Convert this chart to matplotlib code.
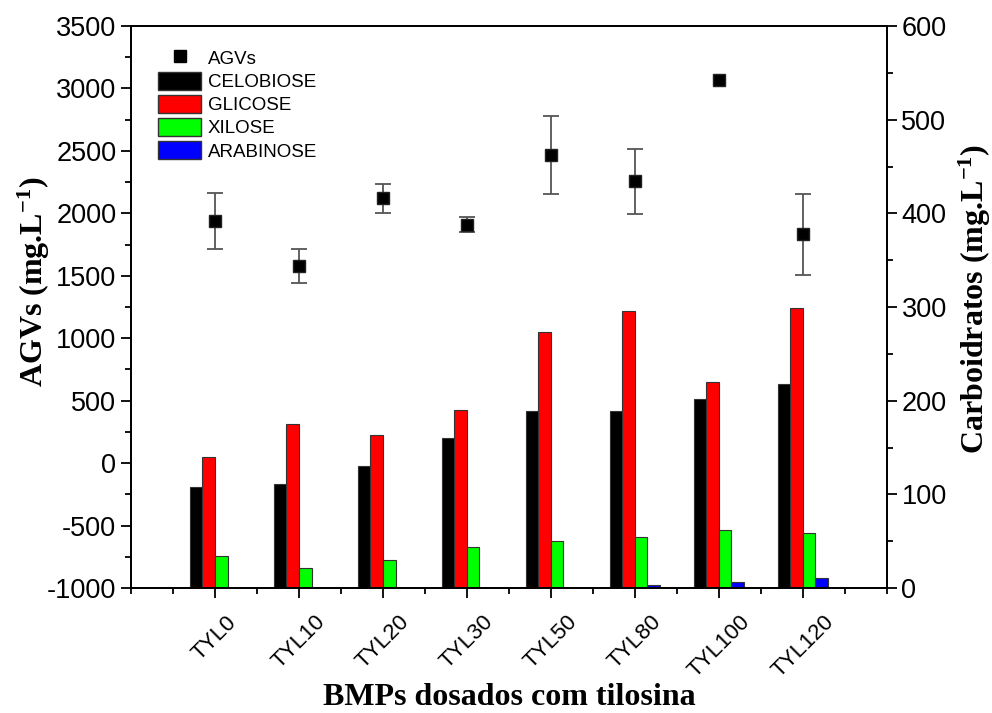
import numpy as np
import matplotlib.pyplot as plt
from matplotlib.patches import Patch
from matplotlib.lines import Line2D
from matplotlib.ticker import MultipleLocator

plt.rcParams['font.family'] = ['Liberation Sans', 'DejaVu Sans']
plt.rcParams['axes.unicode_minus'] = False
plt.rcParams['mathtext.fontset'] = 'custom'
plt.rcParams['mathtext.rm'] = 'Liberation Serif:bold'
plt.rcParams['mathtext.it'] = 'Liberation Serif:bold'
plt.rcParams['mathtext.bf'] = 'Liberation Serif:bold'

# categories and values
groups = ['TYL0', 'TYL10', 'TYL20', 'TYL30', 'TYL50', 'TYL80', 'TYL100', 'TYL120']
agvs = [1939, 1576, 2120, 1907, 2467, 2256, 3068, 1832]
agvs_err = [225, 136, 115, 60, 315, 258, np.nan, 322]
celobiose = [107.5, 111, 130, 160, 189, 189.5, 202, 217.5]
glicose = [140, 175, 163, 190.5, 273, 295.5, 220, 298.5]
xilose = [34, 21, 30, 43.5, 50.5, 54, 61.5, 59]
arabinose = [0, 0, 0, 0, 0, 3.6, 6.4, 10.7]

x = np.arange(len(groups))
w = 0.15

fig = plt.figure(figsize=(9.92, 7.13), dpi=100)
ax = fig.add_axes([0.132, 0.1753, 0.762, 0.7882])
ax2 = ax.twinx()

edge = '#333333'
ax2.bar(x - 1.5 * w, celobiose, w, color='#000000', edgecolor=edge, linewidth=0.8)
ax2.bar(x - 0.5 * w, glicose, w, color='#FF0000', edgecolor=edge, linewidth=0.8)
ax2.bar(x + 0.5 * w, xilose, w, color='#00FF00', edgecolor=edge, linewidth=0.8)
ax2.bar(x + 1.5 * w, arabinose, w, color='#0000FF', edgecolor=edge, linewidth=0.8)

ax.set_zorder(ax2.get_zorder() + 1)
ax.patch.set_visible(False)
ax.errorbar(x, agvs, yerr=agvs_err, fmt='s', color='black', ms=9,
            mec='#222222', ecolor='#555555', elinewidth=1.3, capsize=6, capthick=1.3)

ax.set_xlim(-1, 8)
ax.set_ylim(-1000, 3500)
ax2.set_ylim(0, 600)

ax.set_xticks(x)
ax.set_xticklabels(groups, rotation=45, ha='center', fontsize=16)
ax.xaxis.set_minor_locator(MultipleLocator(0.5))
ax.yaxis.set_major_locator(MultipleLocator(500))
ax.yaxis.set_minor_locator(MultipleLocator(250))
ax2.yaxis.set_major_locator(MultipleLocator(100))
ax2.yaxis.set_minor_locator(MultipleLocator(50))

ax.tick_params(axis='y', which='both', direction='out', labelsize=19.5, width=1.3)
ax.tick_params(axis='y', which='major', length=7)
ax.tick_params(axis='y', which='minor', length=4)
ax.tick_params(axis='x', which='both', direction='out', width=1.3)
ax.tick_params(axis='x', which='major', length=7, pad=10)
ax.tick_params(axis='x', which='minor', length=4)
ax2.tick_params(axis='x', which='both', top=True, bottom=False, labeltop=False,
                labelbottom=False, direction='in', width=1.3)
ax2.tick_params(axis='x', which='major', length=7)
ax2.tick_params(axis='x', which='minor', length=4)
ax2.tick_params(axis='y', which='both', direction='out', labelsize=19.5, width=1.3)
ax2.tick_params(axis='y', which='major', length=7)
ax2.tick_params(axis='y', which='minor', length=4)

for a in (ax, ax2):
    for s in a.spines.values():
        s.set_linewidth(1.3)

serif = {'family': 'Liberation Serif', 'weight': 'bold', 'size': 23}
ax.set_xlabel('BMPs dosados com tilosina', fontdict=serif)
ax.set_ylabel('AGVs (mg.L$^{-1}$)', fontdict=serif)
ax2.set_ylabel('Carboidratos (mg.L$^{-1}$)', fontdict=serif)
ax.xaxis.set_label_coords(0.5, -0.169)
ax.yaxis.set_label_coords(-0.105, 0.545)
ax2.yaxis.set_label_coords(1.093, 0.515)

handles = [
    Line2D([], [], marker='s', color='black', ls='none', ms=9),
    Patch(facecolor='#000000', edgecolor=edge),
    Patch(facecolor='#FF0000', edgecolor=edge),
    Patch(facecolor='#00FF00', edgecolor=edge),
    Patch(facecolor='#0000FF', edgecolor=edge),
]
labels = ['AGVs', 'CELOBIOSE', 'GLICOSE', 'XILOSE', 'ARABINOSE']
ax.legend(handles, labels, loc='upper left', frameon=False, fontsize=13.5,
          handlelength=2.3, handleheight=1.1, handletextpad=0.35, labelspacing=0.2,
          borderaxespad=0, bbox_to_anchor=(0.026, 0.973))

fig.savefig('out.png', dpi=100)
